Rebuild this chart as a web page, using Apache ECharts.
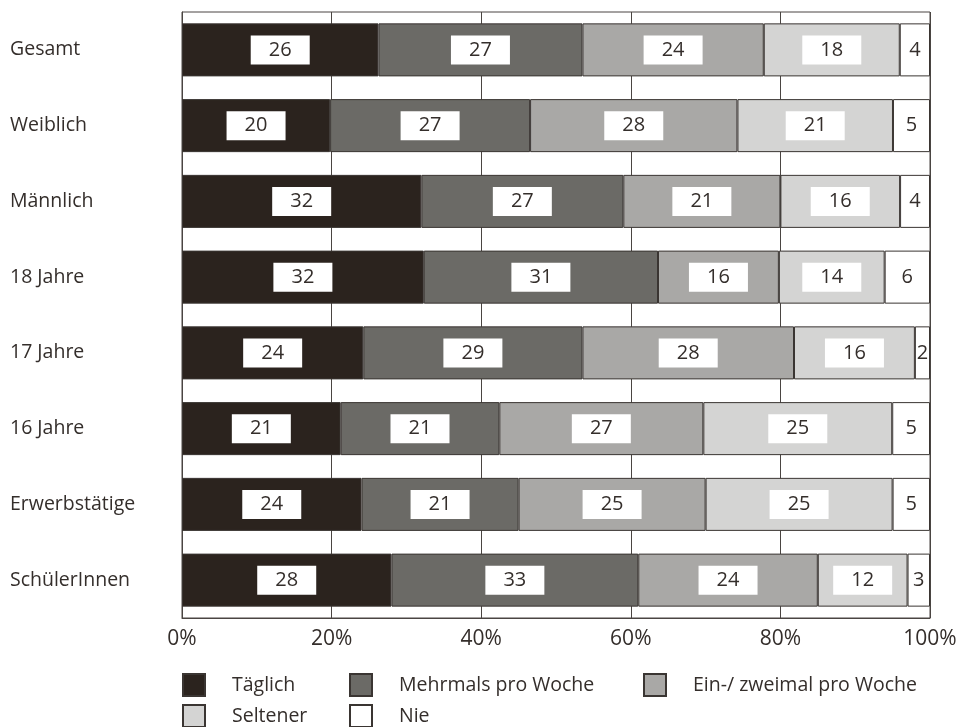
<!DOCTYPE html>
<html>
<head>
<meta charset="utf-8">
<script src="https://cdn.jsdelivr.net/npm/echarts@6/dist/echarts.min.js"></script>
<style>
  html, body { margin: 0; padding: 0; background: #fff; }
  #chart { width: 963px; height: 727px; }
</style>
</head>
<body>
<div id="chart"></div>
<script>
// Groups (top to bottom)
const categories = ['Gesamt', 'Weiblich', 'Männlich', '18 Jahre', '17 Jahre', '16 Jahre', 'Erwerbstätige', 'SchülerInnen'];

// Answer shares in percent per group
const taeglich   = [26, 20, 32, 32, 24, 21, 24, 28];
const mehrmals   = [27, 27, 27, 31, 29, 21, 21, 33];
const einZweimal = [24, 28, 21, 16, 28, 27, 25, 24];
const seltener   = [18, 21, 16, 14, 16, 25, 25, 12];
const nie        = [4, 5, 4, 6, 2, 5, 5, 3];

const seriesNames = ['Täglich', 'Mehrmals pro Woche', 'Ein-/ zweimal pro Woche', 'Seltener', 'Nie'];
const seriesValues = [taeglich, mehrmals, einZweimal, seltener, nie];
const seriesColors = ['#2b231e', '#6b6a66', '#a9a8a6', '#d4d4d3', '#ffffff'];

const tickLabels = ['0%', '20%', '40%', '60%', '80%', '100%'];

// Rows are scaled to a full 100 % bar
const rowTotals = categories.map((_, i) => seriesValues.reduce((s, arr) => s + arr[i], 0));

const textColor = '#342e2b';
const font = 'Open Sans';

const series = seriesNames.map((name, k) => ({
  name: name,
  type: 'bar',
  stack: 'total',
  barWidth: '70%',
  itemStyle: { color: seriesColors[k], borderColor: '#3a3532', borderWidth: 1 },
  label: {
    show: true,
    position: 'inside',
    formatter: p => String(seriesValues[k][p.dataIndex]),
    fontFamily: font,
    fontSize: 20,
    color: textColor,
    backgroundColor: k < 4 ? '#ffffff' : 'transparent',
    width: k < 4 ? 59 : null,
    height: 29,
    lineHeight: 29,
    align: 'center',
    verticalAlign: 'middle'
  },
  emphasis: { disabled: true },
  data: seriesValues[k].map((v, i) => v / rowTotals[i] * 100)
}));

// One legend block per entry, laid out in two rows
const legendPos = [
  { left: 182, top: 673 },
  { left: 349, top: 673 },
  { left: 643, top: 673 },
  { left: 182, top: 704 },
  { left: 349, top: 704 }
];
const legends = seriesNames.map((name, k) => ({
  data: [name],
  left: legendPos[k].left,
  top: legendPos[k].top,
  padding: 0,
  icon: 'rect',
  itemWidth: 22,
  itemHeight: 22,
  selectedMode: false,
  textStyle: { fontFamily: font, fontSize: 19.5, color: textColor, padding: [0, 0, 0, 22] }
}));

const chart = echarts.init(document.getElementById('chart'), null, { renderer: 'canvas' });
chart.setOption({
  animation: false,
  backgroundColor: '#ffffff',
  grid: { left: 182, right: 33, top: 12, bottom: 109, show: true, borderColor: '#4a4542', borderWidth: 1 },
  legend: legends,
  xAxis: {
    type: 'value',
    min: 0,
    max: 100,
    interval: 20,
    axisLine: { show: true, lineStyle: { color: '#4a4542' } },
    axisTick: { show: false },
    splitLine: { show: true, lineStyle: { color: '#4a4542', width: 1 } },
    axisLabel: {
      formatter: v => tickLabels[Math.round(v / 20)],
      fontFamily: font,
      fontSize: 21,
      color: textColor,
      margin: 11
    }
  },
  yAxis: {
    type: 'category',
    data: categories,
    inverse: true,
    axisLine: { show: true, lineStyle: { color: '#4a4542' } },
    axisTick: { show: false },
    axisLabel: {
      align: 'left',
      margin: 172,
      fontFamily: font,
      fontSize: 19.5,
      color: textColor
    }
  },
  series: series
});
</script>
</body>
</html>
